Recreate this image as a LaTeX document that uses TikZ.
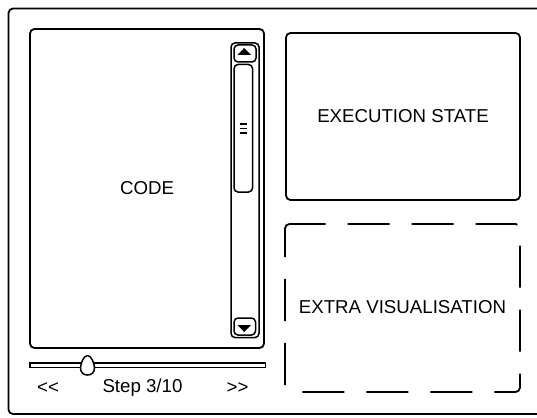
\documentclass[tikz,border=0pt]{standalone}
\usepackage{fontspec}
\setmainfont{Liberation Sans}

\begin{document}
\begin{tikzpicture}[x=1pt,y=-1pt]
    \tikzstyle{every node}=[font=\fontsize{18.67}{22}\selectfont,inner sep=0pt]
    \tikzstyle{panel}=[draw,line width=1.8pt,rounded corners=4.5pt]
    \tikzstyle{part}=[draw,line width=1.5pt,rounded corners=4pt]
    \useasboundingbox (0,0) rectangle (537,417);

    % The window itself, cut off at the right
    \draw[panel] (8.5,8.5) rectangle (560,414);

    % The three panels
    \node[panel,minimum width=234pt,minimum height=319pt] (code) at (147,188.5) {CODE};
    \node[panel,minimum width=234pt,minimum height=167pt] (state) at (403,116.5) {EXECUTION STATE};
    \node (extra) at (402.5,307) {EXTRA VISUALISATION};
    % the extra panel is only dashed, going round from its top left corner
    \draw[panel,dash pattern=on 42pt off 22pt,dash phase=6pt]
        (285,224) -- (520,224) -- (520,392) -- (285,392) -- cycle;

    % Scroll bar of the code panel
    \draw[part] (231,43) rectangle (259,337.5);
    \draw[part] (234,45) rectangle (256,62);
    \fill (237.5,55) -- (251,55) -- (244.2,48) -- cycle;
    \draw[part] (234,64.5) rectangle (252.5,192);
    \foreach \y in {123.8,128.4,133}
        \draw[line width=1.8pt] (239.5,\y) -- (246.5,\y);
    \draw[part] (234,318) rectangle (255.5,335);
    \fill (237.5,325) -- (251,325) -- (244.2,332) -- cycle;

    % Step slider
    \draw[line width=1.5pt] (30,363) rectangle (265.5,367.5);
    \draw[line width=1.5pt,fill=white] (87.5,355.5)
        .. controls (91.5,355.5) and (94.5,364) .. (94.5,368)
        .. controls (94.5,372.5) and (91.5,375) .. (87.5,375)
        .. controls (83.5,375) and (80.5,372.5) .. (80.5,368)
        .. controls (80.5,364) and (83.5,355.5) .. (87.5,355.5);
    \node (back) at (48,388) {<\kern0pt<};
    \node (step) at (142.5,388) {Step 3/10};
    \node (fwd) at (237.5,388) {>\kern0pt>};

\end{tikzpicture}
\end{document}
